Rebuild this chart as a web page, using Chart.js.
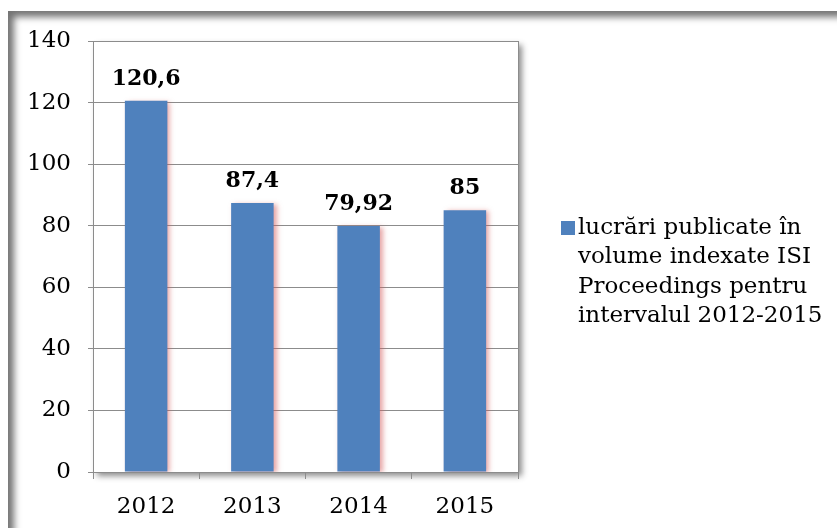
<!DOCTYPE html>
<html>
<head>
<meta charset="utf-8">
<script src="https://cdn.jsdelivr.net/npm/chart.js@4/dist/chart.umd.min.js"></script>
<style>
  html, body { margin: 0; padding: 0; background: #fff; }
  #wrap { position: relative; width: 837px; height: 528px; overflow: hidden; background: #fff; }
  #frame { position: absolute; left: 8px; top: 11px; width: 900px; height: 600px;
           background: #fff; box-shadow: inset 7px 7px 7px -1px rgba(0,0,0,0.55); }
  #c { position: absolute; left: 0; top: 0; }
</style>
</head>
<body>
<div id="wrap">
  <div id="frame"></div>
  <canvas id="c" width="837" height="528"></canvas>
</div>
<script>
const categories = ['2012', '2013', '2014', '2015'];
const seriesValues = [120.6, 87.4, 79.92, 85];
const seriesName = ['lucrări publicate în', 'volume indexate ISI', 'Proceedings pentru', 'intervalul 2012-2015'];
const yTicks = [0, 20, 40, 60, 80, 100, 120, 140];

const FONT = '"DejaVu Serif", "Liberation Serif", serif';
const BLUE = '#4F81BD';

const plotFrame = {
  id: 'plotFrame',
  beforeDraw(chart) {
    const { ctx, chartArea: a } = chart;
    ctx.save();
    ctx.shadowColor = 'rgba(0,0,0,0.45)';
    ctx.shadowOffsetX = 4;
    ctx.shadowOffsetY = 4;
    ctx.shadowBlur = 6;
    ctx.fillStyle = '#fff';
    ctx.fillRect(a.left, a.top, a.right - a.left, a.bottom - a.top);
    ctx.restore();
    ctx.save();
    ctx.strokeStyle = '#8c8c8c';
    ctx.lineWidth = 1;
    ctx.beginPath();
    ctx.moveTo(Math.round(a.right) + 0.5, a.top);
    ctx.lineTo(Math.round(a.right) + 0.5, a.bottom);
    ctx.stroke();
    ctx.restore();
  }
};

const barShadow = {
  id: 'barShadow',
  beforeDatasetDraw(chart) {
    const ctx = chart.ctx;
    ctx.save();
    ctx.shadowColor = 'rgba(210,90,90,0.55)';
    ctx.shadowOffsetX = 3;
    ctx.shadowOffsetY = 1;
    ctx.shadowBlur = 5;
  },
  afterDatasetDraw(chart) {
    chart.ctx.restore();
  }
};

const valueLabels = {
  id: 'valueLabels',
  afterDatasetsDraw(chart) {
    const ctx = chart.ctx;
    const meta = chart.getDatasetMeta(0);
    ctx.save();
    ctx.font = 'bold 22px ' + FONT;
    ctx.fillStyle = '#000';
    ctx.textAlign = 'center';
    ctx.textBaseline = 'alphabetic';
    meta.data.forEach((bar, i) => {
      const txt = String(seriesValues[i]).replace('.', ',');
      ctx.fillText(txt, bar.x, bar.y - 16);
    });
    ctx.restore();
  }
};

const sideLegend = {
  id: 'sideLegend',
  afterDraw(chart) {
    const ctx = chart.ctx;
    ctx.save();
    ctx.fillStyle = BLUE;
    ctx.fillRect(561, 221, 14, 14);
    ctx.fillStyle = '#000';
    ctx.font = '23px ' + FONT;
    ctx.textAlign = 'left';
    ctx.textBaseline = 'middle';
    seriesName.forEach((line, i) => {
      ctx.fillText(line, 578, 228 + i * 29.5);
    });
    ctx.restore();
  }
};

new Chart(document.getElementById('c'), {
  type: 'bar',
  data: {
    labels: categories,
    datasets: [{
      label: seriesName.join(' '),
      data: seriesValues,
      backgroundColor: BLUE,
      borderWidth: 0,
      barPercentage: 0.4,
      categoryPercentage: 1.0
    }]
  },
  options: {
    responsive: false,
    animation: false,
    events: [],
    layout: { padding: { left: 0, top: 41, right: 319, bottom: 0 } },
    plugins: {
      legend: { display: false },
      tooltip: { enabled: false }
    },
    scales: {
      x: {
        offset: true,
        grid: {
          offset: true,
          drawOnChartArea: false,
          drawTicks: true,
          tickLength: 7,
          color: '#8c8c8c'
        },
        border: { color: '#8c8c8c', width: 1 },
        ticks: { color: '#000', font: { family: FONT, size: 23 }, padding: 14 },
        afterFit(s) { s.height = 56; }
      },
      y: {
        min: 0,
        max: 140,
        afterBuildTicks(s) { s.ticks = yTicks.map(v => ({ value: v })); },
        grid: { color: '#8c8c8c', tickLength: 5 },
        border: { color: '#8c8c8c', width: 1 },
        ticks: { color: '#000', font: { family: FONT, size: 23 }, padding: 17 },
        afterFit(s) { s.width = 93; }
      }
    }
  },
  plugins: [plotFrame, barShadow, valueLabels, sideLegend]
});
</script>
</body>
</html>
